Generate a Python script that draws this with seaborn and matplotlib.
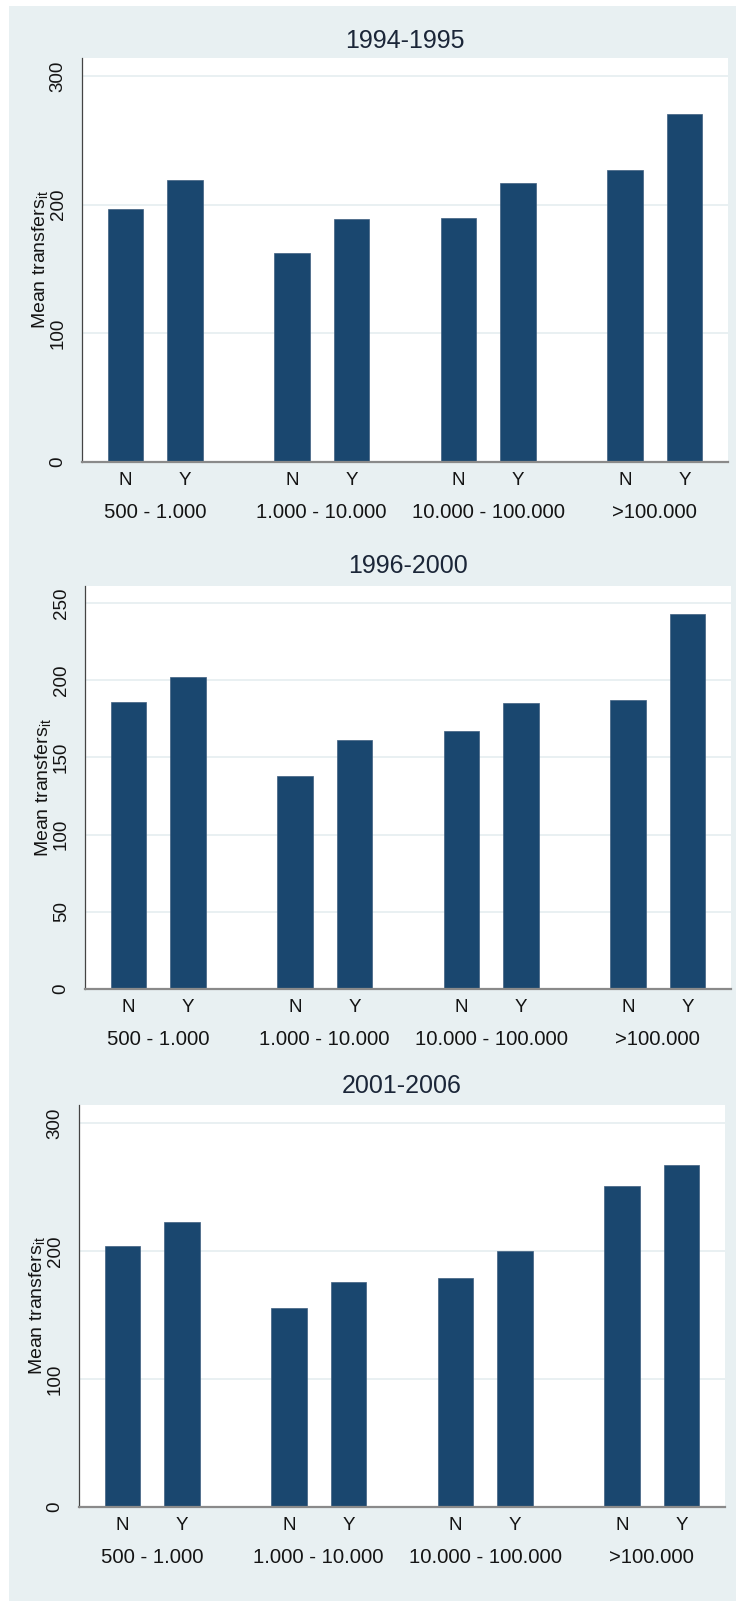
import numpy as np
import pandas as pd
import matplotlib
matplotlib.use("Agg")
import matplotlib.pyplot as plt
import seaborn as sns
from matplotlib.patches import Rectangle

sns.set_theme(style="white")
plt.rcParams["font.family"] = ["Liberation Sans", "DejaVu Sans"]
plt.rcParams["mathtext.default"] = "regular"

# ---- data -------------------------------------------------------------
sizes = ["500 - 1.000", "1.000 - 10.000", "10.000 - 100.000", ">100.000"]
members = ["N", "Y"]
periods = ["1994-1995", "1996-2000", "2001-2006"]

# mean transfers, ordered size class by size class, N then Y
transfers_1994_1995 = [196.4, 219.5, 162.6, 188.9, 189.4, 217.1, 227.0, 270.7]
transfers_1996_2000 = [186.1, 202.2, 137.8, 161.5, 166.9, 185.2, 187.0, 242.9]
transfers_2001_2006 = [203.9, 222.7, 155.8, 175.9, 179.2, 200.1, 250.6, 267.0]

yticks_1994_1995 = [0, 100, 200, 300]
yticks_1996_2000 = [0, 50, 100, 150, 200, 250]
yticks_2001_2006 = [0, 100, 200, 300]

# ---- styling ----------------------------------------------------------
W, H = 736, 1601
BG = "#E8F0F2"
BAR = "#1A476F"
TXT = "#141414"
TITLE = "#1b2638"
GROUP_STEP = 2.8      # distance between size classes (bar spacing = 1)
BAR_WIDTH = 0.6

panels = [
    # values, ticks, ymax, (left, right, top, bottom) in px, title centre y px
    (transfers_1994_1995, yticks_1994_1995, 314, (82, 728, 58, 462), 41),
    (transfers_1996_2000, yticks_1996_2000, 261, (85, 731, 586, 989), 566),
    (transfers_2001_2006, yticks_2001_2006, 314, (79, 725, 1105, 1507), 1086),
]

fig = plt.figure(figsize=(W / 100, H / 100), dpi=100, facecolor="white")
fig.patches.append(Rectangle((9 / W, 0), 1 - 9 / W, 1 - 6 / H,
                             transform=fig.transFigure, facecolor=BG,
                             edgecolor="none", zorder=-10))

for period, (values, ticks, ymax, (l, r, t, b), ty) in zip(periods, panels):
    ax = fig.add_axes([l / W, 1 - b / H, (r - l) / W, (b - t) / H])
    ax.set_facecolor("white")

    df = pd.DataFrame({
        "size": np.repeat(sizes, len(members)),
        "member": members * len(sizes),
        "value": values,
    })
    df["pos"] = (df["size"].map({s: i for i, s in enumerate(sizes)}) * GROUP_STEP
                 + df["member"].map({m: i for i, m in enumerate(members)}))

    sns.barplot(data=df, x="pos", y="value", native_scale=True, width=BAR_WIDTH,
                color=BAR, saturation=1, errorbar=None, ax=ax,
                edgecolor="#3f5f80", linewidth=0.5, zorder=3)

    last = (len(sizes) - 1) * GROUP_STEP + (len(members) - 1)
    ax.set_xlim(-0.73, last + 0.73)
    ax.set_ylim(0, ymax)

    ax.set_xticks(df["pos"], df["member"])
    ax.tick_params(axis="x", length=0, pad=7.5, labelsize=13.5, labelcolor=TXT)
    for i, s in enumerate(sizes):
        centre = i * GROUP_STEP + (len(members) - 1) / 2
        ax.annotate(s, xy=(centre, 0), xycoords=("data", "axes fraction"),
                    xytext=(0, -36.5), textcoords="offset points",
                    ha="center", va="center", fontsize=14.6, color=TXT)

    ax.set_yticks(ticks)
    ax.tick_params(axis="y", length=6, width=0.9, color="#888888",
                   direction="out", pad=5, labelsize=13.5, labelcolor=TXT,
                   labelrotation=90)
    for lab in ax.get_yticklabels():
        lab.set_va("center")

    ax.grid(axis="y", color="#E3ECEF", linewidth=1.1, zorder=0)
    ax.set_axisbelow(True)
    for side in ("top", "right"):
        ax.spines[side].set_visible(False)
    ax.spines["left"].set_color("#444444")
    ax.spines["left"].set_linewidth(0.9)
    ax.spines["bottom"].set_color("#8a8a8a")
    ax.spines["bottom"].set_linewidth(1.6)
    ax.spines["bottom"].set_zorder(5)

    ax.set_xlabel("")
    ax.set_ylabel(r"Mean transfers$_{it}$", fontsize=14, color=TXT, labelpad=0)

    fig.text((l + r) / 2 / W, 1 - ty / H, period, ha="center", va="center",
             fontsize=18, color=TITLE)

fig.savefig("out.png", dpi=100, facecolor=fig.get_facecolor())
